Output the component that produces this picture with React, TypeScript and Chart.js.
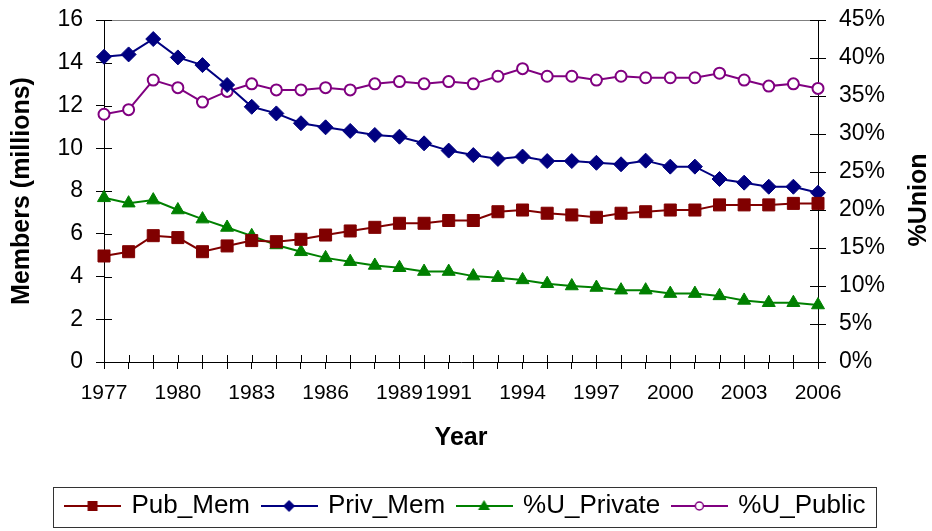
import React, { useEffect, useRef } from "react";
import { Chart, registerables } from "chart.js";

Chart.register(...registerables);

const YEARS = [
  1977, 1978, 1979, 1980, 1981, 1982, 1983, 1984, 1985, 1986,
  1987, 1988, 1989, 1990, 1991, 1992, 1993, 1994, 1995, 1996,
  1997, 1998, 1999, 2000, 2001, 2002, 2003, 2004, 2005, 2006,
];
const TICK_YEARS = [1977, 1980, 1983, 1986, 1989, 1991, 1994, 1997, 2000, 2003, 2006];

// Members (millions), left axis
const PUB_MEM = [
  4.96, 5.16, 5.91, 5.82, 5.16, 5.43, 5.68, 5.63, 5.74, 5.94,
  6.13, 6.3, 6.49, 6.49, 6.62, 6.62, 7.03, 7.11, 6.96, 6.88,
  6.77, 6.96, 7.03, 7.11, 7.11, 7.35, 7.35, 7.35, 7.42, 7.42,
];
const PRIV_MEM = [
  14.28, 14.39, 15.11, 14.25, 13.89, 12.96, 11.94, 11.63, 11.17, 10.98,
  10.81, 10.62, 10.54, 10.23, 9.89, 9.68, 9.5, 9.61, 9.4, 9.4,
  9.32, 9.25, 9.42, 9.14, 9.14, 8.56, 8.39, 8.2, 8.2, 7.92,
];
// %Union, right axis
const U_PRIVATE = [
  21.6, 20.9, 21.3, 20.0, 18.8, 17.7, 16.6, 15.4, 14.5, 13.7,
  13.2, 12.7, 12.4, 11.9, 11.9, 11.3, 11.1, 10.8, 10.3, 10.0,
  9.8, 9.45, 9.45, 9.0, 9.0, 8.7, 8.1, 7.8, 7.8, 7.5,
];
const U_PUBLIC = [
  32.6, 33.2, 37.1, 36.1, 34.2, 35.6, 36.6, 35.8, 35.8, 36.1,
  35.8, 36.6, 36.9, 36.6, 36.9, 36.6, 37.6, 38.6, 37.6, 37.6,
  37.1, 37.6, 37.4, 37.4, 37.4, 38.0, 37.1, 36.3, 36.6, 36.0,
];

const FONT = "'Liberation Sans', Arial, sans-serif";

type Marker = "square" | "diamond" | "triangle" | "circle";

function makeLegendIcon(color: string, marker: Marker): HTMLCanvasElement {
  const c = document.createElement("canvas");
  c.width = 57;
  c.height = 20;
  const g = c.getContext("2d")!;
  g.strokeStyle = color;
  g.lineWidth = 2;
  g.beginPath();
  g.moveTo(0, 10);
  g.lineTo(57, 10);
  g.stroke();
  const cx = 28.5, cy = 10;
  g.fillStyle = color;
  g.beginPath();
  if (marker === "square") {
    g.rect(cx - 5, cy - 5, 10, 10);
    g.fill();
  } else if (marker === "diamond") {
    g.moveTo(cx, cy - 6);
    g.lineTo(cx + 6, cy);
    g.lineTo(cx, cy + 6);
    g.lineTo(cx - 6, cy);
    g.closePath();
    g.fill();
  } else if (marker === "triangle") {
    g.moveTo(cx, cy - 6);
    g.lineTo(cx + 6, cy + 4);
    g.lineTo(cx - 6, cy + 4);
    g.closePath();
    g.fill();
  } else {
    g.arc(cx, cy, 4, 0, Math.PI * 2);
    g.fillStyle = "#fff";
    g.fill();
    g.lineWidth = 1.5;
    g.stroke();
  }
  return c;
}

const decorPlugin = {
  id: "decor",
  beforeDatasetsDraw(chart: any) {
    const { ctx, chartArea: ca, scales } = chart;
    ctx.save();
    ctx.lineWidth = 1;
    ctx.strokeStyle = "#808080";
    ctx.beginPath();
    ctx.moveTo(ca.left, Math.round(ca.top) + 0.5);
    ctx.lineTo(ca.right, Math.round(ca.top) + 0.5);
    ctx.stroke();
    ctx.strokeStyle = "#000";
    ctx.beginPath();
    const y = scales.y;
    y.ticks.forEach((_t: any, i: number) => {
      const py = Math.round(y.getPixelForTick(i)) + 0.5;
      ctx.moveTo(ca.left, py);
      ctx.lineTo(ca.left + 8, py);
    });
    const y1 = scales.y1;
    y1.ticks.forEach((_t: any, i: number) => {
      const py = Math.round(y1.getPixelForTick(i)) + 0.5;
      ctx.moveTo(ca.right - 8, py);
      ctx.lineTo(ca.right, py);
    });
    const x = scales.x;
    x.ticks.forEach((_t: any, i: number) => {
      const px = Math.round(x.getPixelForTick(i)) + 0.5;
      ctx.moveTo(px, ca.bottom - 7);
      ctx.lineTo(px, ca.bottom);
    });
    ctx.stroke();
    ctx.restore();
  },
  afterDraw(chart: any) {
    const { ctx } = chart;
    ctx.save();
    // right axis title, reading bottom-to-top
    ctx.translate(919, 200);
    ctx.rotate(-Math.PI / 2);
    ctx.font = `bold 25px ${FONT}`;
    ctx.fillStyle = "#000";
    ctx.textAlign = "center";
    ctx.textBaseline = "middle";
    ctx.fillText("%Union", 0, 0);
    ctx.restore();
    // legend border
    const boxes = chart.legend && chart.legend.legendHitBoxes;
    if (boxes && boxes.length) {
      const l = Math.min(...boxes.map((b: any) => b.left));
      const r = Math.max(...boxes.map((b: any) => b.left + b.width));
      const t = Math.min(...boxes.map((b: any) => b.top));
      const bt = Math.max(...boxes.map((b: any) => b.top + b.height));
      ctx.save();
      ctx.strokeStyle = "#333";
      ctx.lineWidth = 1;
      ctx.strokeRect(Math.round(l - 14) + 0.5, Math.round(t - 6) + 0.5, Math.round(r - l + 24), Math.round(bt - t + 14));
      ctx.restore();
    }
  },
};

export default function App() {
  const ref = useRef<HTMLCanvasElement | null>(null);

  useEffect(() => {
    if (!ref.current) return;
    Chart.defaults.font.family = FONT;
    Chart.defaults.color = "#000";

    const series = [
      { label: "Pub_Mem", data: PUB_MEM, color: "#800000", style: "rect", radius: 8.5, marker: "square" as Marker, axis: "y" },
      { label: "Priv_Mem", data: PRIV_MEM, color: "#000080", style: "rectRot", radius: 7.5, marker: "diamond" as Marker, axis: "y" },
      { label: "%U_Private", data: U_PRIVATE, color: "#008000", style: "triangle", radius: 7.5, marker: "triangle" as Marker, axis: "y1" },
      { label: "%U_Public", data: U_PUBLIC, color: "#800080", style: "circle", radius: 5.5, marker: "circle" as Marker, axis: "y1" },
    ];
    const icons = series.map((s) => makeLegendIcon(s.color, s.marker));

    const chart = new Chart(ref.current, {
      type: "line",
      data: {
        labels: YEARS.map(String),
        datasets: series.map((s) => ({
          label: s.label,
          data: s.data,
          yAxisID: s.axis,
          borderColor: s.color,
          backgroundColor: s.color,
          borderWidth: 2,
          pointStyle: s.style as any,
          pointRadius: s.radius,
          pointBackgroundColor: s.marker === "circle" ? "#fff" : s.color,
          pointBorderColor: s.color,
          pointBorderWidth: s.marker === "circle" ? 2 : 1,
          tension: 0,
          clip: false as any,
        })),
      },
      options: {
        animation: false,
        responsive: true,
        maintainAspectRatio: false,
        layout: { padding: { top: 20, bottom: 2, left: 0, right: 0 } },
        plugins: {
          tooltip: { enabled: false },
          legend: {
            position: "bottom",
            labels: {
              usePointStyle: true,
              pointStyleWidth: 52,
              padding: 13,
              color: "#000",
              font: { size: 26, family: FONT },
              generateLabels: () =>
                series.map((s, i) => ({
                  text: s.label,
                  fillStyle: s.color,
                  strokeStyle: s.color,
                  lineWidth: 0,
                  pointStyle: icons[i] as any,
                  datasetIndex: i,
                  hidden: false,
                  fontColor: "#000",
                })),
            },
          },
        },
        scales: {
          x: {
            type: "category",
            offset: false,
            grid: { display: true, drawOnChartArea: false, drawTicks: true, tickLength: 7, color: "#000" },
            border: { display: true, color: "#000", width: 1 },
            ticks: {
              autoSkip: false,
              maxRotation: 0,
              minRotation: 0,
              padding: 12,
              font: { size: 21, family: FONT },
              color: "#000",
              callback: (_v: any, i: number) => (TICK_YEARS.includes(YEARS[i]) ? String(YEARS[i]) : ""),
            },
            title: {
              display: true,
              text: "Year",
              color: "#000",
              font: { size: 25, weight: "bold", family: FONT },
              padding: { top: 0, bottom: 27 },
            },
            afterFit: (s: any) => {
              s.height = 118;
              s.paddingLeft = 0;
              s.paddingRight = 0;
            },
          },
          y: {
            position: "left",
            min: 0,
            max: 16,
            ticks: { stepSize: 2, padding: 13, font: { size: 23, family: FONT }, color: "#000" },
            grid: { display: true, drawOnChartArea: false, drawTicks: true, tickLength: 8, color: "#000" },
            border: { display: true, color: "#000", width: 1 },
            title: {
              display: true,
              text: "Members (millions)",
              color: "#000",
              font: { size: 25, weight: "bold", family: FONT },
              padding: { top: 7, bottom: 0 },
            },
            afterFit: (s: any) => {
              s.width = 104;
              s.paddingTop = 0;
              s.paddingBottom = 0;
            },
          },
          y1: {
            position: "right",
            min: 0,
            max: 45,
            ticks: {
              stepSize: 5,
              padding: 13,
              font: { size: 23, family: FONT },
              color: "#000",
              callback: (v: any) => `${v}%`,
            },
            grid: { display: true, drawOnChartArea: false, drawTicks: true, tickLength: 8, color: "#000" },
            border: { display: true, color: "#000", width: 1 },
            afterFit: (s: any) => {
              s.width = 114;
              s.paddingTop = 0;
              s.paddingBottom = 0;
            },
          },
        },
      },
      plugins: [decorPlugin],
    });
    return () => chart.destroy();
  }, []);

  return (
    <div style={{ position: "absolute", left: 0, top: 0, width: 932, height: 531, background: "#fff" }}>
      <canvas ref={ref} />
    </div>
  );
}
